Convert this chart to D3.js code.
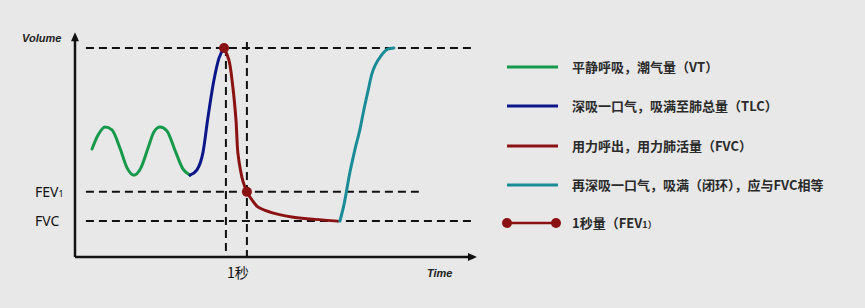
<!DOCTYPE html>
<html>
<head>
<meta charset="utf-8">
<script src="https://cdn.jsdelivr.net/npm/d3@7"></script>
<style>
  body { margin: 0; background: #e8e8e8; }
  svg { display: block; }
  .cn { font-family: "Noto Sans CJK SC", sans-serif; font-size: 13px; font-weight: bold; fill: #2a2a2a; }
  .axlabel { font-family: "Liberation Sans", Arial, sans-serif; font-size: 11px; font-weight: bold; font-style: italic; fill: #222; }
  .lvl { font-family: "Noto Sans", sans-serif; font-size: 14px; fill: #111; }
</style>
</head>
<body>
<div class="chart"></div>
<script>
// time in seconds, volume in litres
var greenCurve = [[0.81,3.10],[1.10,3.50],[1.43,3.73],[1.76,3.65],[2.14,3.13],[2.48,2.56],[2.81,2.35],
                  [3.14,2.56],[3.48,3.13],[3.76,3.59],[4.05,3.73],[4.38,3.62],[4.76,3.07],[5.14,2.53],[5.48,2.35]];
var blueCurve  = [[5.48,2.35],[5.81,2.50],[6.10,3.01],[6.33,3.99],[6.62,5.08],[6.86,5.71],[7.10,6.00]];
var redCurve   = [[7.10,6.00],[7.33,5.66],[7.52,4.88],[7.67,3.93],[7.76,2.99],[7.90,2.44],[8.00,2.18],[8.19,1.87],
                  [8.43,1.64],[8.71,1.44],[9.29,1.29],[10.33,1.15],[11.43,1.08],[12.52,1.03]];
var tealCurve  = [[12.62,1.03],[12.81,1.49],[13.10,2.44],[13.33,3.07],[13.57,3.65],[13.76,4.22],[13.95,4.74],
                  [14.14,5.25],[14.33,5.54],[14.57,5.77],[14.90,5.97],[15.19,6.00]];
var fev1Points = [[7.10,6.00],[8.19,1.87]];

var levelTLC = 6.00, levelFEV1 = 1.87, levelFVC = 1.03;
var markTimes = [7.19, 8.19];   // start of blow and 1 second later
var timeLabel = "1秒";

var legendLabels = ["平静呼吸，潮气量（VT）", "深吸一口气，吸满至肺总量（TLC）", "用力呼出，用力肺活量（FVC）",
                    "再深吸一口气，吸满（闭环），应与FVC相等", "1秒量（FEV"];
var legendColors = ["#16994a", "#0b1689", "#8b1212", "#1a8c98", "#8b1212"];

var width = 865, height = 308;

var x = d3.scaleLinear().domain([0, 19.2]).range([75, 478]);
var y = d3.scaleLinear().domain([0, 6]).range([257, 48]);

var svg = d3.select(".chart").append("svg")
    .attr("width", width)
    .attr("height", height);

svg.append("rect").attr("width", width).attr("height", height).attr("fill", "#e8e8e8");

var line = d3.line()
    .x(d => x(d[0]))
    .y(d => y(d[1]))
    .curve(d3.curveMonotoneX);

// dashed guide lines
var dash = "8,5";
var guides = [
  [0.52, levelTLC, 18.95, levelTLC],
  [0.52, levelFEV1, 16.38, levelFEV1],
  [0.52, levelFVC, 18.95, levelFVC],
  [markTimes[0], levelTLC, markTimes[0], 0],
  [markTimes[1], 6.17, markTimes[1], 0]
];
svg.selectAll(".guide")
    .data(guides)
  .enter().append("line")
    .attr("class", "guide")
    .attr("x1", d => x(d[0])).attr("y1", d => y(d[1]))
    .attr("x2", d => x(d[2])).attr("y2", d => y(d[3]))
    .attr("stroke", "#111")
    .attr("stroke-width", 2)
    .attr("stroke-dasharray", dash);

// axes
svg.append("line")
    .attr("x1", x(0)).attr("y1", y(0))
    .attr("x2", x(0)).attr("y2", y(6.3))
    .attr("stroke", "#111").attr("stroke-width", 2.5);
svg.append("line")
    .attr("x1", x(0)).attr("y1", y(0))
    .attr("x2", x(19.0)).attr("y2", y(0))
    .attr("stroke", "#111").attr("stroke-width", 2.5);
// arrow heads
var ax = x(0), ay = y(6.45);
svg.append("path")
    .attr("d", "M" + ax + "," + ay + "L" + (ax - 4) + "," + (ay + 9) + "L" + (ax + 4) + "," + (ay + 9) + "Z")
    .attr("fill", "#111");
var bx = x(19.15), by = y(0);
svg.append("path")
    .attr("d", "M" + bx + "," + by + "L" + (bx - 9) + "," + (by - 4) + "L" + (bx - 9) + "," + (by + 4) + "Z")
    .attr("fill", "#111");

svg.append("text").attr("class", "axlabel").attr("x", 22).attr("y", 42).text("Volume");
svg.append("text").attr("class", "axlabel").attr("x", 427).attr("y", 277).text("Time");

svg.append("text").attr("class", "lvl").attr("x", 35).attr("y", y(levelFEV1) + 5)
    .text("FEV").append("tspan").attr("font-size", 9).text("1");
svg.append("text").attr("class", "lvl").attr("x", 35).attr("y", y(levelFVC) + 5).text("FVC");
svg.append("text").attr("class", "cn").style("font-size", "14px").style("font-weight", "normal").style("fill", "#111")
    .attr("x", x(markTimes[0]) + 1).attr("y", 278).text(timeLabel);

// curves
[greenCurve, blueCurve, redCurve, tealCurve].forEach(function(c, i) {
  svg.append("path")
      .datum(c)
      .attr("fill", "none")
      .attr("stroke", legendColors[i])
      .attr("stroke-width", 3)
      .attr("stroke-linecap", "round")
      .attr("d", i == 2 ? line.curve(d3.curveCatmullRom)(c) : line.curve(d3.curveMonotoneX)(c));
});

svg.selectAll(".dot")
    .data(fev1Points)
  .enter().append("circle")
    .attr("class", "dot")
    .attr("cx", d => x(d[0]))
    .attr("cy", d => y(d[1]))
    .attr("r", 5)
    .attr("fill", "#8b1212");

// legend
var legendY = [67, 106, 146, 185, 223];
var lg = svg.selectAll(".lg")
    .data(legendLabels)
  .enter().append("g")
    .attr("class", "lg")
    .attr("transform", (d, i) => "translate(507," + legendY[i] + ")");

lg.append("line")
    .attr("x1", 0).attr("x2", (d, i) => i == 4 ? 49 : 51)
    .attr("stroke", (d, i) => legendColors[i])
    .attr("stroke-width", (d, i) => i == 4 ? 2.5 : 3);

lg.filter((d, i) => i == 4).selectAll("circle")
    .data([0, 49])
  .enter().append("circle")
    .attr("cx", d => d)
    .attr("r", 5)
    .attr("fill", "#8b1212");

var lt = lg.append("text")
    .attr("class", "cn")
    .attr("x", 65)
    .attr("y", 5)
    .text(d => d);
lt.filter((d, i) => i == 4).append("tspan").attr("font-size", 9).text("1）");
</script>
</body>
</html>
